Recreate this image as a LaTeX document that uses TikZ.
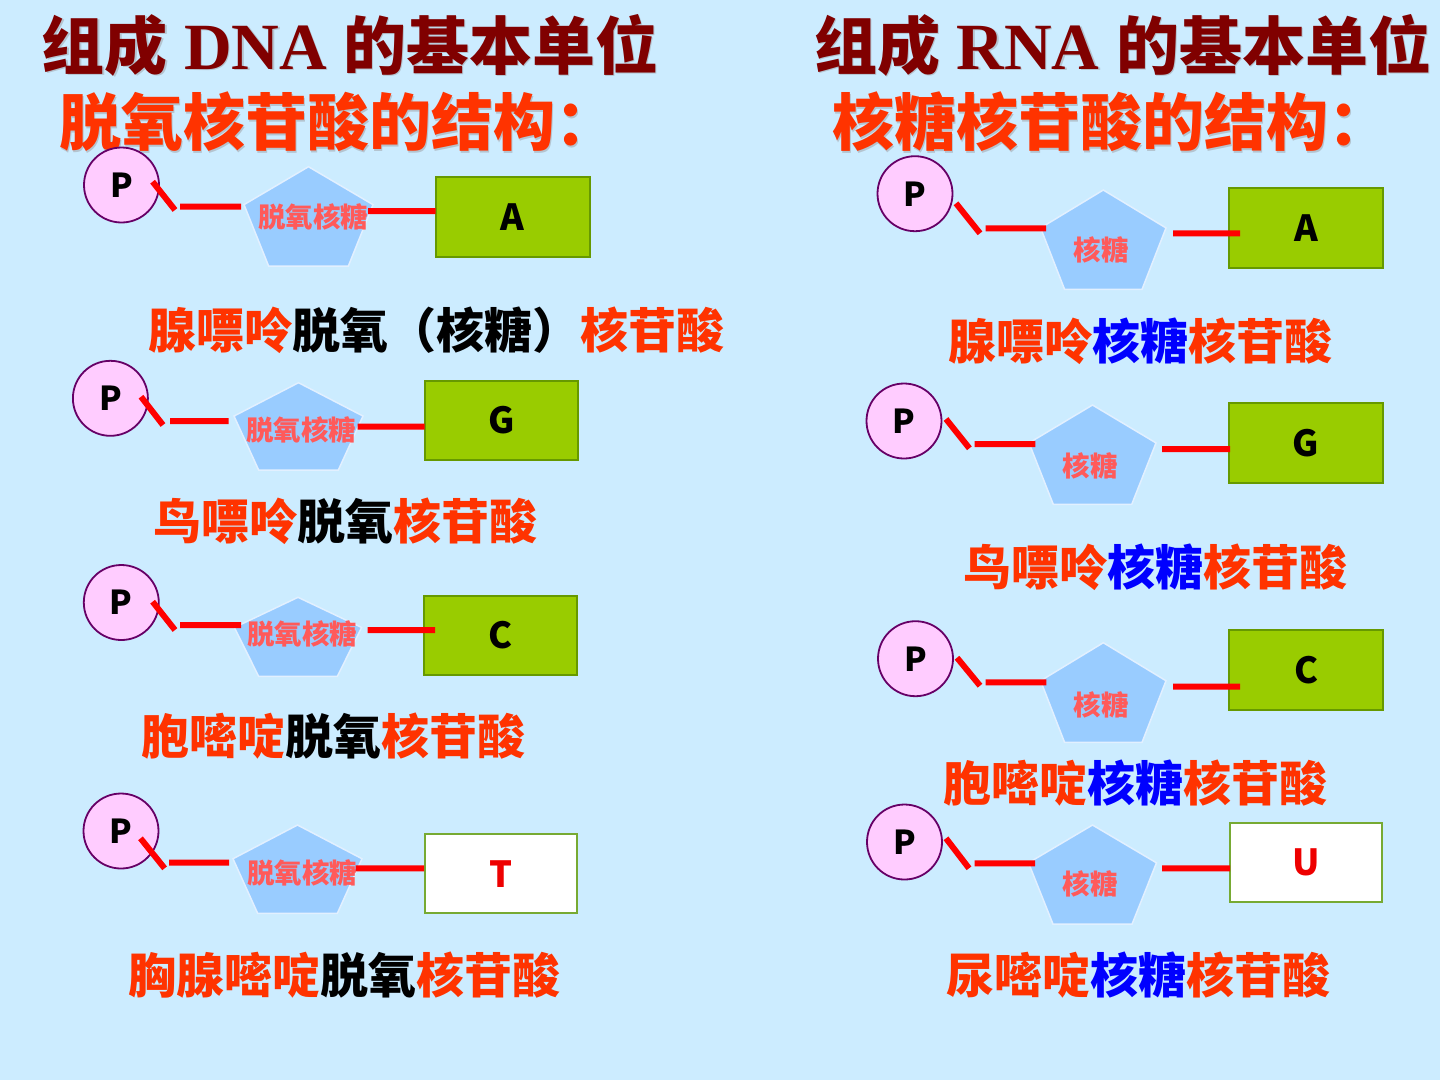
\documentclass[tikz,border=0pt]{standalone}
\usepackage{fontspec}
\newfontfamily\cjk{Noto Sans CJK SC}
\newfontfamily\tms{Liberation Serif}
\definecolor{bgc}{HTML}{CCECFF}
\definecolor{pfill}{HTML}{FFCCFF}
\definecolor{pline}{HTML}{660066}
\definecolor{sfill}{HTML}{99CCFF}
\definecolor{sline}{HTML}{E2F0FF}
\definecolor{stext}{HTML}{FF5A5A}
\definecolor{bfill}{HTML}{99CC00}
\definecolor{bline}{HTML}{669900}
\definecolor{wline}{HTML}{77AA33}
\definecolor{bondred}{HTML}{FF0000}
\definecolor{maroon}{HTML}{800000}
\definecolor{orr}{HTML}{FF3300}
\definecolor{blu}{HTML}{0000FF}
\definecolor{shd}{HTML}{B4C4D0}
\definecolor{letred}{HTML}{EE0000}
\newcommand\sugarpent[4]{\path[sugar] ({#1},{#2}) -- ({#1+#3/2},{#2+0.382*#4}) -- ({#1+0.309*#3},{#2+#4}) -- ({#1-0.309*#3},{#2+#4}) -- ({#1-#3/2},{#2+0.382*#4}) -- cycle;}
\tikzset{
  phos/.style={circle, draw=pline, line width=1.8pt, fill=pfill, minimum size=75pt, inner sep=0pt,
    font=\cjk\bfseries\fontsize{33}{33}\selectfont},
  sugar/.style={fill=sfill, draw=sline, line width=1.5pt},
  sugartxt/.style={inner sep=0pt, text=stext, font=\cjk\bfseries\fontsize{27.5}{27.5}\selectfont},
  basebox/.style={rectangle, draw=bline, line width=2pt, fill=bfill, inner sep=0pt,
    font=\cjk\bfseries\fontsize{36}{36}\selectfont},
  whitebox/.style={rectangle, draw=wline, line width=2pt, fill=white, inner sep=0pt, text=letred,
    font=\cjk\bfseries\fontsize{36}{36}\selectfont},
  bond/.style={draw=bondred, line width=6pt},
  ttla/.style={inner sep=0pt, text=maroon, font=\cjk\bfseries\fontsize{63}{63}\selectfont},
  ttlb/.style={inner sep=0pt, anchor=west, text=orr, font=\cjk\bfseries\fontsize{62}{62}\selectfont},
  lbl/.style={inner sep=0pt, anchor=west, font=\cjk\bfseries\fontsize{48}{48}\selectfont},
}
\begin{document}
\begin{tikzpicture}[x=1pt,y=-1pt]
\fill[bgc] (0,0) rectangle (1440,1080);
\useasboundingbox (0,0) rectangle (1440,1080);

% ---------- titles ----------
\node[ttla, text=shd] (tDs) at (351.5,46.5) {组成{\tms\fontsize{66}{66}\selectfont\ DNA\ }的基本单位};
\node[ttla] (tD) at (350,45) {组成{\tms\fontsize{66}{66}\selectfont\ DNA\ }的基本单位};
\node[ttlb, text=shd] (tD2s) at (60.5,123.5) {脱氧核苷酸的结构：};
\node[ttlb] (tD2) at (59,122) {脱氧核苷酸的结构：};
\node[ttla, text=shd] (tRs) at (1124,46.5) {组成{\tms\fontsize{66}{66}\selectfont\ RNA\ }的基本单位};
\node[ttla] (tR) at (1122.5,45) {组成{\tms\fontsize{66}{66}\selectfont\ RNA\ }的基本单位};
\node[ttlb, text=shd] (tR2s) at (833.5,123.5) {核糖核苷酸的结构：};
\node[ttlb] (tR2) at (832,122) {核糖核苷酸的结构：};

% ---------- DNA units ----------
% L1
\sugarpent{308.5}{166.7}{129}{99.3}
\node[sugartxt] (sL1) at (313,216.7) {脱氧核糖};
\node[phos] (pL1) at (121.5,185) {P};
\node[basebox, minimum width=154pt, minimum height=80pt] (bL1) at (512.8,216.7) {A};
\coordinate (L1a) at (152.6,181.7); \coordinate (L1b) at (175,210);
\coordinate (L1c) at (180,206.7); \coordinate (L1d) at (241,206.7);
\coordinate (L1e) at (368,211); \coordinate (L1f) at (435.6,211);
\draw[bond] (L1a) -- (L1b) (L1c) -- (L1d) (L1e) -- (L1f);
\node[lbl] (lL1) at (148,330) {\textcolor{orr}{腺嘌呤}脱氧（核糖）\textcolor{orr}{核苷酸}};

% L2
\sugarpent{298.5}{382.7}{129}{87.3}
\node[sugartxt] (sL2) at (301,430) {脱氧核糖};
\node[phos] (pL2) at (110.4,398.3) {P};
\node[basebox, minimum width=153pt, minimum height=79pt] (bL2) at (501.2,420.5) {G};
\coordinate (L2a) at (141,396.7); \coordinate (L2b) at (163,425);
\coordinate (L2c) at (170,421); \coordinate (L2d) at (228.6,421);
\coordinate (L2e) at (357.6,426.7); \coordinate (L2f) at (424.6,426.7);
\draw[bond] (L2a) -- (L2b) (L2c) -- (L2d) (L2e) -- (L2f);
\node[lbl] (lL2) at (153,521) {\textcolor{orr}{鸟嘌呤}脱氧\textcolor{orr}{核苷酸}};

% L3
\sugarpent{298}{597.3}{127.3}{79}
\node[sugartxt] (sL3) at (302,634) {脱氧核糖};
\node[phos] (pL3) at (121.3,602.5) {P};
\node[basebox, minimum width=153pt, minimum height=79pt] (bL3) at (500.9,635.5) {C};
\coordinate (L3a) at (152.6,601.7); \coordinate (L3b) at (175,630);
\coordinate (L3c) at (180,625); \coordinate (L3d) at (241,625);
\coordinate (L3e) at (367.6,630); \coordinate (L3f) at (435,630);
\draw[bond] (L3a) -- (L3b) (L3c) -- (L3d) (L3e) -- (L3f);
\node[lbl] (lL3) at (141,736) {\textcolor{orr}{胞嘧啶}脱氧\textcolor{orr}{核苷酸}};

% L4
\sugarpent{297.5}{825}{129}{88.3}
\node[sugartxt] (sL4) at (302,873.3) {脱氧核糖};
\node[phos] (pL4) at (121,831) {P};
\node[whitebox, minimum width=152.4pt, minimum height=79.3pt] (bL4) at (500.8,873.7) {T};
\coordinate (L4a) at (140.5,838.3); \coordinate (L4b) at (164.6,868.3);
\coordinate (L4c) at (169,862.7); \coordinate (L4d) at (229,862.7);
\coordinate (L4e) at (355.5,868.3); \coordinate (L4f) at (424,868.3);
\draw[bond] (L4a) -- (L4b) (L4c) -- (L4d) (L4e) -- (L4f);
\node[lbl] (lL4) at (128,975) {\textcolor{orr}{胸腺嘧啶}脱氧\textcolor{orr}{核苷酸}};

% ---------- RNA units ----------
% R1
\sugarpent{1103.3}{190}{125.4}{99.3}
\node[sugartxt] (sR1) at (1101,250) {核糖};
\node[phos] (pR1) at (915,193.7) {P};
\node[basebox, minimum width=154pt, minimum height=80pt] (bR1) at (1306,228) {A};
\coordinate (R1a) at (956,203.3); \coordinate (R1b) at (980,233.3);
\coordinate (R1c) at (985.6,228.3); \coordinate (R1d) at (1046,228.3);
\coordinate (R1e) at (1173,233.3); \coordinate (R1f) at (1240,233.3);
\draw[bond] (R1a) -- (R1b) (R1c) -- (R1d) (R1e) -- (R1f);
\node[lbl, text=orr] (lR1) at (948,341) {腺嘌呤\textcolor{blu}{核糖}核苷酸};

% R2
\sugarpent{1092.5}{405}{127}{99.3}
\node[sugartxt] (sR2) at (1090,465.7) {核糖};
\node[phos] (pR2) at (904,421) {P};
\node[basebox, minimum width=154pt, minimum height=80pt] (bR2) at (1306,443.3) {G};
\coordinate (R2a) at (946,419); \coordinate (R2b) at (969.4,448.3);
\coordinate (R2c) at (974.5,444); \coordinate (R2d) at (1035.4,444);
\coordinate (R2e) at (1162,449); \coordinate (R2f) at (1230,449);
\draw[bond] (R2a) -- (R2b) (R2c) -- (R2d) (R2e) -- (R2f);
\node[lbl, text=orr] (lR2) at (963,567) {鸟嘌呤\textcolor{blu}{核糖}核苷酸};

% R3
\sugarpent{1103.3}{642.7}{125.4}{99.6}
\node[sugartxt] (sR3) at (1101,705) {核糖};
\node[phos] (pR3) at (915.5,658.7) {P};
\node[basebox, minimum width=154pt, minimum height=80pt] (bR3) at (1306,670) {C};
\coordinate (R3a) at (957,657.7); \coordinate (R3b) at (980,685.7);
\coordinate (R3c) at (985.6,682.3); \coordinate (R3d) at (1046.4,682.3);
\coordinate (R3e) at (1173,686.7); \coordinate (R3f) at (1240,686.7);
\draw[bond] (R3a) -- (R3b) (R3c) -- (R3d) (R3e) -- (R3f);
\node[lbl, text=orr] (lR3) at (943,783) {胞嘧啶\textcolor{blu}{核糖}核苷酸};

% R4
\sugarpent{1092.5}{825}{128}{99}
\node[sugartxt] (sR4) at (1090,884) {核糖};
\node[phos] (pR4) at (904.5,842) {P};
\node[whitebox, minimum width=152pt, minimum height=78.4pt] (bR4) at (1306,862.5) {U};
\coordinate (R4a) at (946,838.3); \coordinate (R4b) at (969,868.3);
\coordinate (R4c) at (974.5,863.3); \coordinate (R4d) at (1035,863.3);
\coordinate (R4e) at (1162,868.3); \coordinate (R4f) at (1230,868.3);
\draw[bond] (R4a) -- (R4b) (R4c) -- (R4d) (R4e) -- (R4f);
\node[lbl, text=orr] (lR4) at (946,975) {尿嘧啶\textcolor{blu}{核糖}核苷酸};
\end{tikzpicture}
\end{document}
